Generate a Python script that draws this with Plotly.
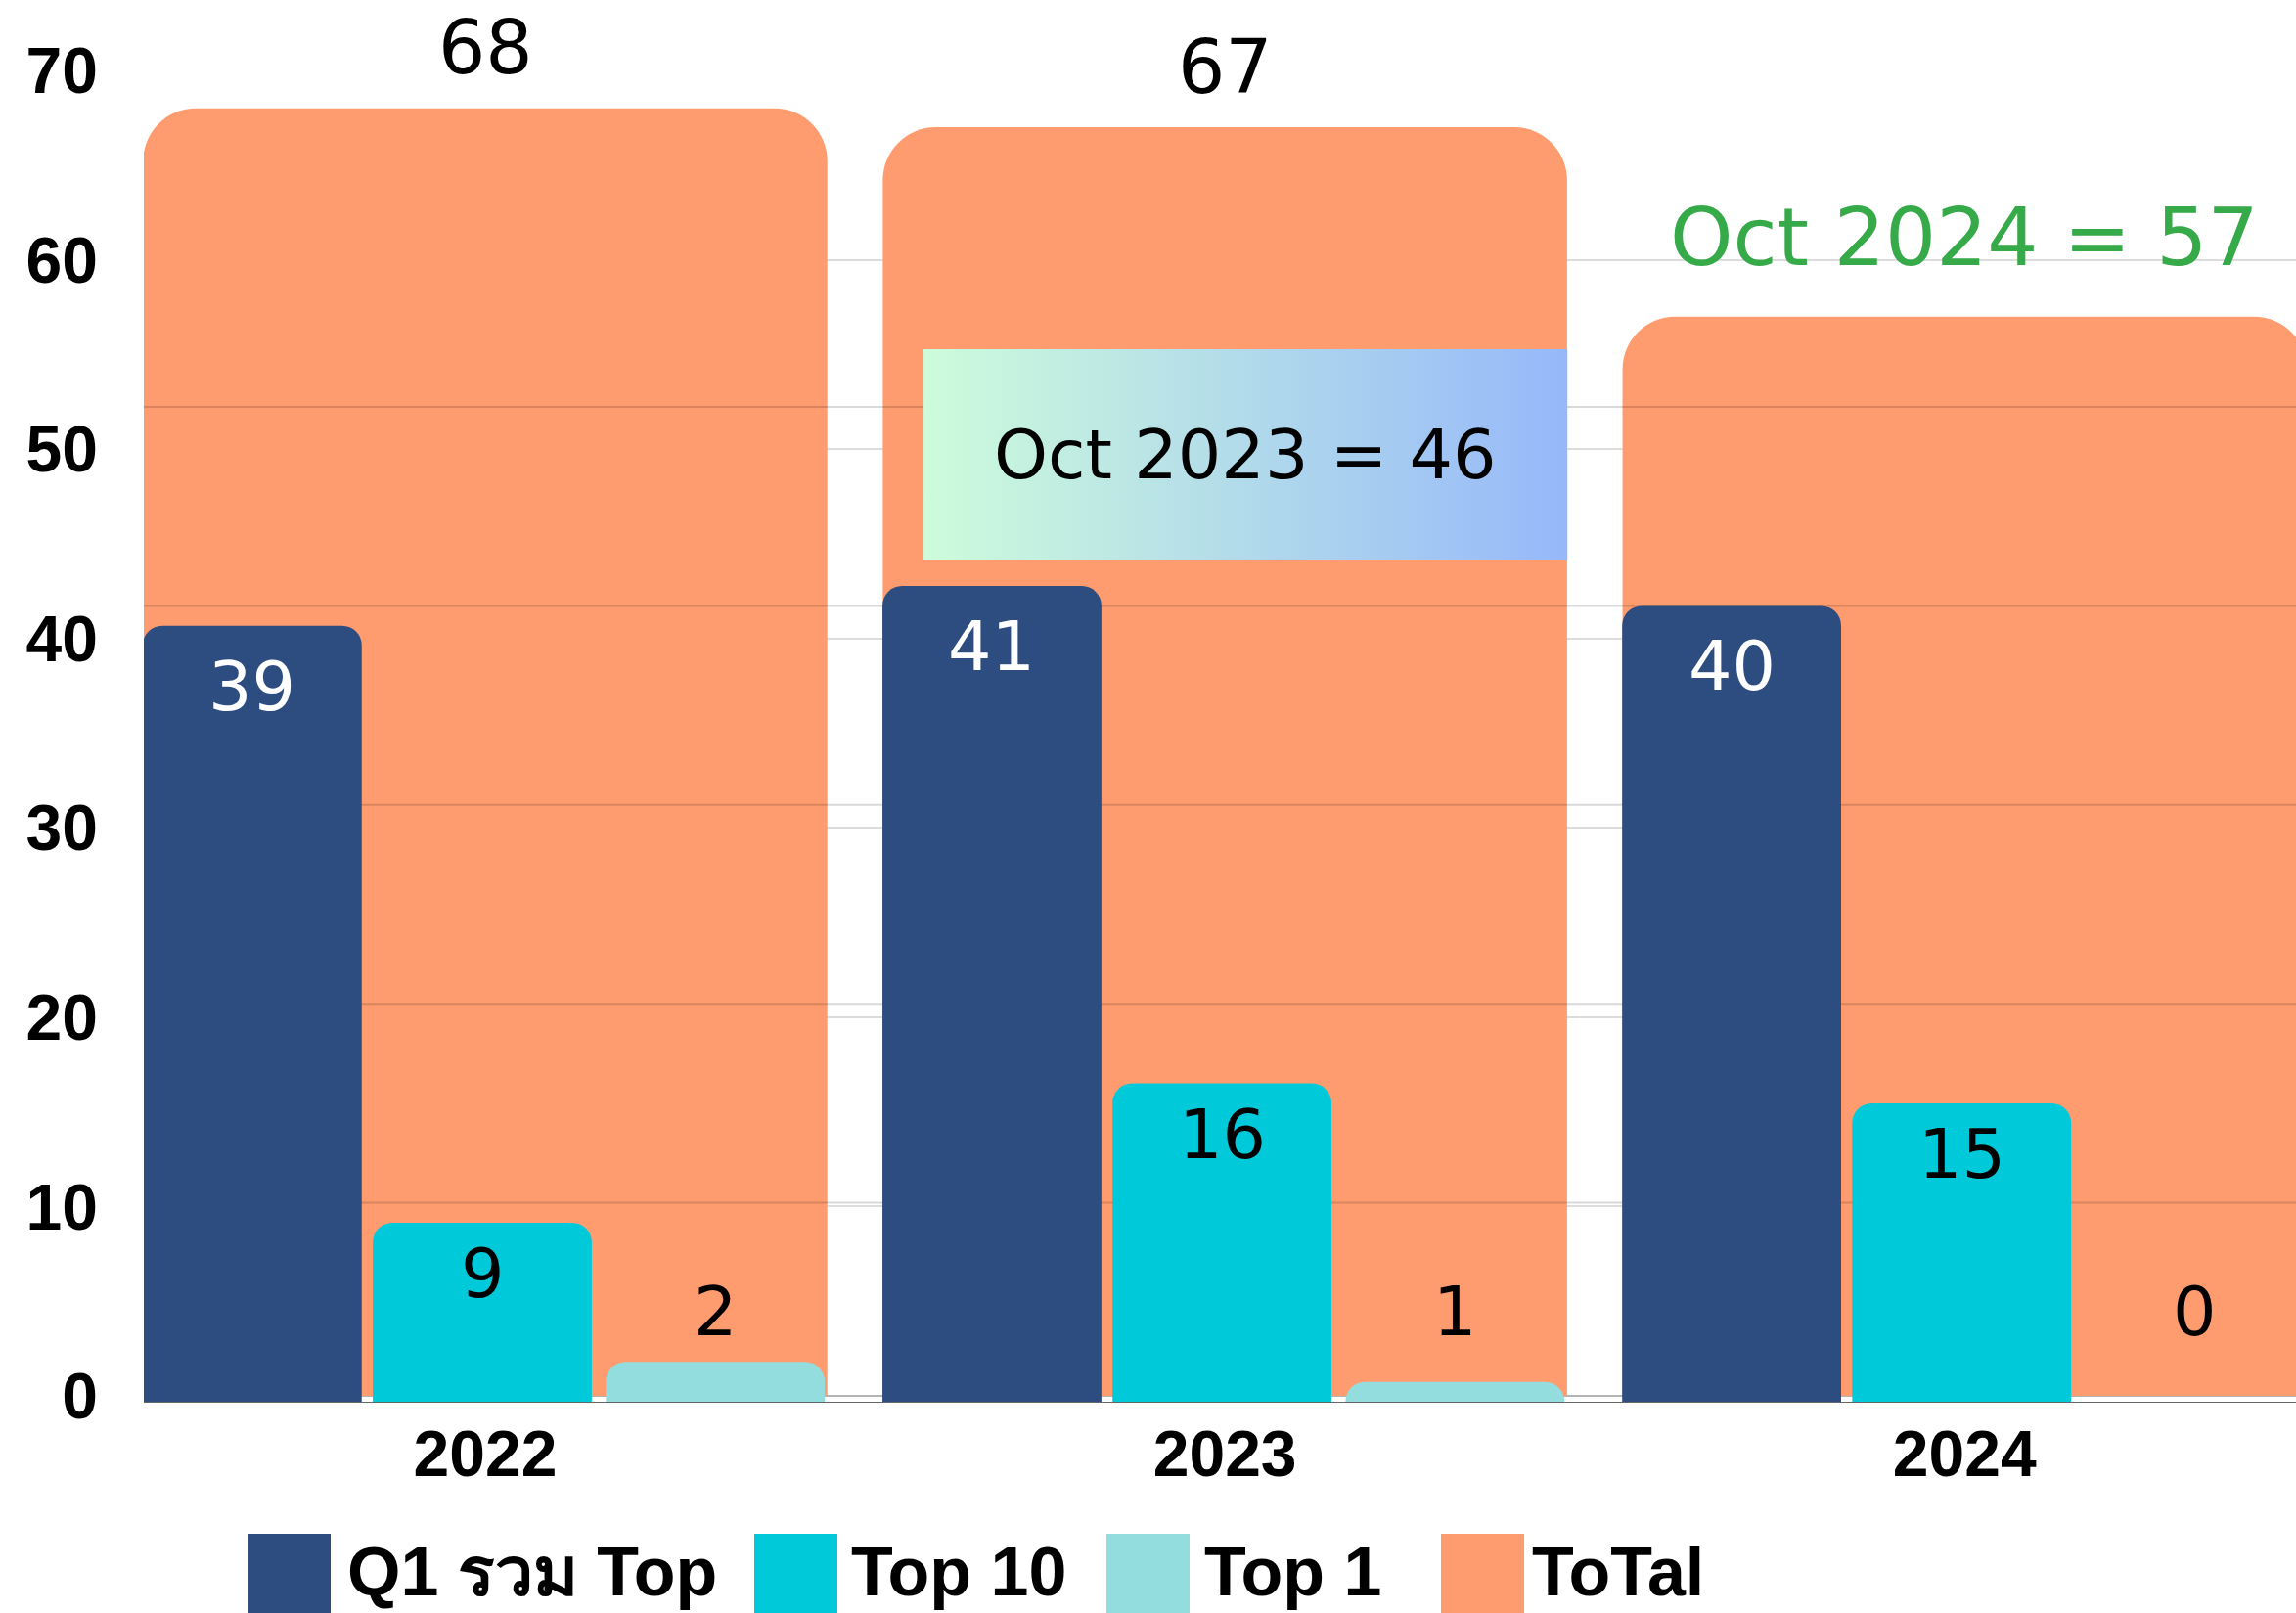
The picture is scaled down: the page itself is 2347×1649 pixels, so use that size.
import plotly.graph_objects as go

# ---------------- data ----------------
years = [2022, 2023, 2024]
q1_top = [39, 41, 40]
top10 = [9, 16, 15]
top1 = [2, 1, 0]
total = [68, 67, 57]
total_label_shown = [True, True, False]
oct_years = [2023, 2024]
oct_values = [46, 57]
series_names = ["Q1 รวม Top", "Top 10", "Top 1", "ToTal"]
y_ticks = [0, 10, 20, 30, 40, 50, 60, 70]
fg_grid_ticks = [10, 20, 30, 40, 50]

# ---------------- style ----------------
C_Q1, C_T10, C_T1, C_TOT = "#2D4C80", "#00CADA", "#94DDDF", "#FE9C6F"
colors = [C_Q1, C_T10, C_T1, C_TOT]
NUM_FONT = "DejaVu Sans"
BOLD_FONT = "Liberation Sans"

W, H = 2347, 1649
ML, MR, MT, MB = 147, 0, 72, 216
PW, PH = W - ML - MR, H - MT - MB

# main (Total) axis: 19.357 px/unit, its zero 6 px above the plot bottom
Y1_PX = 19.357
y1_min = -6 / Y1_PX
y1_max = y1_min + PH / Y1_PX
# foreground axis: 20.34 px/unit, zero at plot bottom
Y2_PX = 20.34
y2_max = PH / Y2_PX

x_min, x_max = years[0] - 0.4616, years[0] + 2.448

TOT_W = 0.925
fg_offsets = [-0.463, -0.152, 0.163]
fg_width = 0.296

fig = go.Figure()

# Total bars (background)
fig.add_trace(go.Bar(
    x=years, y=total, name=series_names[3], width=TOT_W, offset=-TOT_W / 2,
    marker=dict(color=C_TOT, line=dict(width=0), cornerradius=54),
    showlegend=False, hoverinfo="skip", xaxis="x", yaxis="y"))

# translucent gridlines of the foreground chart (drawn over the Total bars)
gx, gy = [], []
for g in fg_grid_ticks:
    yv = y1_min + g / y2_max * (y1_max - y1_min)
    gx += [x_min, x_max, None]
    gy += [yv, yv, None]
fig.add_trace(go.Scatter(x=gx, y=gy, mode="lines",
                         line=dict(color="rgba(0,0,0,0.15)", width=2),
                         showlegend=False, hoverinfo="skip", xaxis="x", yaxis="y"))

# gradient note box "Oct 2023 = 46"
bx0, bx1 = oct_years[0] - 0.4074, oct_years[0] + 0.463
by0, by1 = 44.12, 55.28
fig.add_trace(go.Scatter(
    x=[bx0, bx1, bx1, bx0, bx0], y=[by0, by0, by1, by1, by0],
    mode="lines", fill="toself", line=dict(width=0, color="rgba(0,0,0,0)"),
    fillgradient=dict(type="horizontal", colorscale=[[0, "#CDFCDB"], [1, "#96B8FA"]]),
    showlegend=False, hoverinfo="skip", xaxis="x", yaxis="y"))

# foreground bars
fg_series = [q1_top, top10, top1]
for i, vals in enumerate(fg_series):
    fig.add_trace(go.Bar(
        x=years, y=vals, name=series_names[i], width=fg_width, offset=fg_offsets[i],
        marker=dict(color=colors[i], line=dict(width=0), cornerradius=20),
        showlegend=False, hoverinfo="skip", xaxis="x", yaxis="y2", cliponaxis=False))

annotations = []
# total labels
for yr, v, show in zip(years, total, total_label_shown):
    if show:
        annotations.append(dict(x=yr, y=v, xref="x", yref="y", text=str(v),
                                showarrow=False, yanchor="middle", yshift=62,
                                font=dict(family=NUM_FONT, size=76, color="black")))
# Q1 labels (white, inside top)
for yr, v in zip(years, q1_top):
    annotations.append(dict(x=yr + fg_offsets[0] + fg_width / 2, y=v, xref="x", yref="y2",
                            text=str(v), showarrow=False, yanchor="middle", yshift=-62,
                            font=dict(family=NUM_FONT, size=70, color="white")))
# Top 10 labels
for yr, v in zip(years, top10):
    annotations.append(dict(x=yr + fg_offsets[1] + fg_width / 2, y=v, xref="x", yref="y2",
                            text=str(v), showarrow=False, yanchor="middle", yshift=-52,
                            font=dict(family=NUM_FONT, size=70, color="black")))
# Top 1 labels (sit at a common height above the short bars)
for yr, v in zip(years, top1):
    annotations.append(dict(x=yr + fg_offsets[2] + fg_width / 2, y=4.5, xref="x", yref="y2",
                            text=str(v), showarrow=False, yanchor="middle",
                            font=dict(family=NUM_FONT, size=70, color="black")))
# Oct notes
annotations.append(dict(x=(bx0 + bx1) / 2, y=(by0 + by1) / 2, xref="x", yref="y",
                        text=f"Oct {oct_years[0]} = {oct_values[0]}", showarrow=False,
                        font=dict(family=NUM_FONT, size=70, color="black")))
annotations.append(dict(x=oct_years[1], y=61.2, xref="x", yref="y",
                        text=f"Oct {oct_years[1]} = {oct_values[1]}", showarrow=False,
                        font=dict(family=NUM_FONT, size=82, color="#36A948")))

# manual legend (large swatches)
def px_x(p):
    return (p - ML) / PW

def px_y(p):
    return (H - MB - p) / PH

legend_swatch_left = [253, 771, 1131, 1473]
legend_text_left = [353, 868, 1229, 1564]
shapes = []
for i, name in enumerate(series_names):
    shapes.append(dict(type="rect", xref="paper", yref="paper",
                       x0=px_x(legend_swatch_left[i]), x1=px_x(legend_swatch_left[i] + 85),
                       y0=px_y(1649), y1=px_y(1568),
                       fillcolor=colors[i], line=dict(width=0), layer="above"))
    annotations.append(dict(x=px_x(legend_text_left[i]), y=px_y(1607), xref="paper", yref="paper",
                            text=name, showarrow=False, xanchor="left", yanchor="middle",
                            font=dict(family=BOLD_FONT, size=70, color="black", weight="bold")))

fig.update_layout(
    width=W, height=H, template="none",
    margin=dict(l=ML, r=MR, t=MT, b=MB, pad=0),
    paper_bgcolor="white", plot_bgcolor="white",
    barmode="overlay", showlegend=False,
    xaxis=dict(range=[x_min, x_max], tickvals=years, ticktext=[str(y) for y in years],
               showgrid=False, zeroline=False, showline=True, linecolor="#666666", linewidth=1,
               ticks="", ticklabelstandoff=-4,
               tickfont=dict(family=BOLD_FONT, size=66, color="black", weight="bold")),
    yaxis=dict(range=[y1_min, y1_max], tickvals=y_ticks, showgrid=True,
               gridcolor="#DCDCDC", gridwidth=2, zeroline=True, zerolinecolor="#B5B5B5",
               zerolinewidth=2, showline=False, ticks="", ticklabelstandoff=46,
               tickfont=dict(family=BOLD_FONT, size=66, color="black", weight="bold")),
    yaxis2=dict(range=[0, y2_max], overlaying="y", showgrid=False, zeroline=False,
                showticklabels=False, showline=False),
    annotations=annotations, shapes=shapes,
)

fig.write_html("out.html", config={"displayModeBar": False},
               post_script="document.body.style.margin='0';document.body.style.overflow='hidden';")
